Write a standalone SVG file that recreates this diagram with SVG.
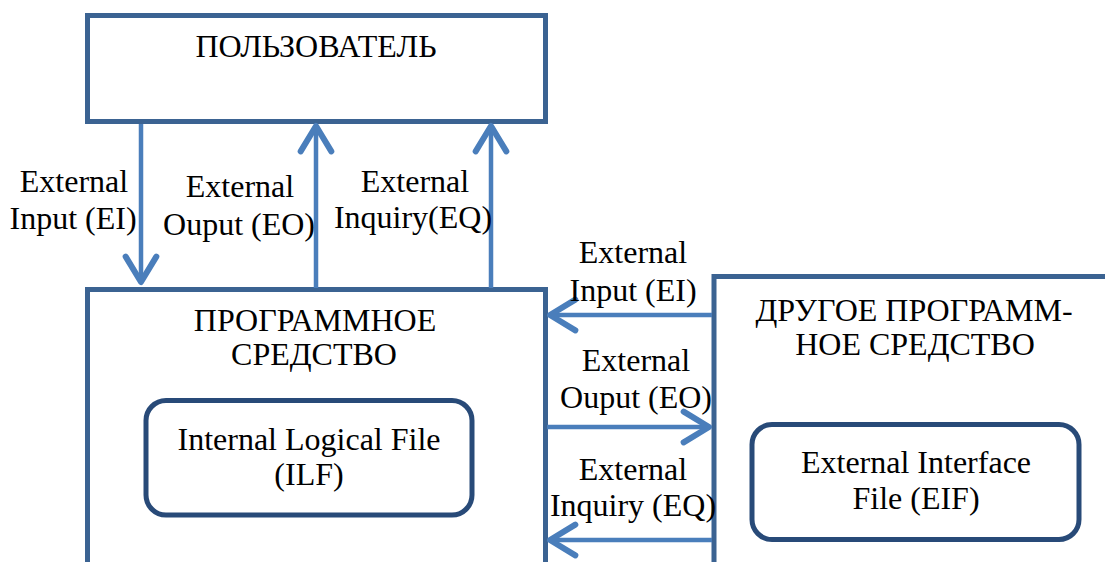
<svg xmlns="http://www.w3.org/2000/svg" width="1105" height="562" viewBox="0 0 1105 562">
  <style>
    .box { fill: #ffffff; stroke: #3b6392; stroke-width: 5; }
    .open { fill: none; stroke: #3b6392; stroke-width: 5; }
    .file { fill: #ffffff; stroke: #284a78; stroke-width: 5; }
    .flow { fill: none; stroke: #4a7ebb; stroke-width: 4.5; marker-end: url(#head); }
  </style>
  <defs>
    <marker id="head" markerUnits="userSpaceOnUse" markerWidth="40" markerHeight="40" viewBox="-25 -15 30 30" refX="0" refY="0" orient="auto" overflow="visible">
      <path d="M-19,-11.5 L0,0 L-19,11.5" fill="none" stroke="#4a7ebb" stroke-width="4.5" stroke-linecap="round" stroke-linejoin="round"/>
    </marker>
  </defs>
  <rect width="1105" height="562" fill="#ffffff"/>

  <g font-family="Times New Roman, Liberation Serif, DejaVu Serif, serif" font-size="32" text-anchor="middle" fill="#000000">
  <g id="user">
    <rect class="box" x="87.5" y="15.5" width="458" height="106"/>
    <text x="316" y="57">ПОЛЬЗОВАТЕЛЬ</text>
  </g>

  <g id="software">
    <path class="open" d="M87.5,570 V289.5 H545.5 V570"/>
    <text x="315" y="331">ПРОГРАММНОЕ</text>
    <text x="314" y="365">СРЕДСТВО</text>
  </g>

  <g id="ilf">
    <rect class="file" x="146" y="400.5" width="326" height="114.5" rx="20" ry="20"/>
    <text x="309" y="450">Internal Logical File</text>
    <text x="309" y="485">(ILF)</text>
  </g>

  <g id="other-software">
    <path class="open" d="M714,570 V276.5 H1110"/>
    <text x="914" y="321">ДРУГОЕ ПРОГРАММ-</text>
    <text x="915" y="355">НОЕ СРЕДСТВО</text>
  </g>

  <g id="eif">
    <rect class="file" x="752" y="424.5" width="327" height="115" rx="20" ry="20"/>
    <text x="916" y="473">External Interface</text>
    <text x="916" y="509">File (EIF)</text>
  </g>

  <g id="connectors">
    <line class="flow" x1="141" y1="124" x2="141" y2="282"/>
    <line class="flow" x1="316" y1="288" x2="316" y2="126"/>
    <line class="flow" x1="491" y1="288" x2="491" y2="126"/>
    <line class="flow" x1="712" y1="315" x2="550" y2="315"/>
    <line class="flow" x1="547" y1="427" x2="709" y2="427"/>
    <line class="flow" x1="712" y1="540" x2="550" y2="540"/>
  </g>

  <g id="labels">
    <text x="74" y="192">External</text>
    <text x="73" y="229">Input (EI)</text>
    <text x="240" y="197">External</text>
    <text x="239" y="235">Ouput (EO)</text>
    <text x="415" y="192">External</text>
    <text x="413" y="228">Inquiry(EQ)</text>
    <text x="633" y="263">External</text>
    <text x="633" y="301">Input (EI)</text>
    <text x="636" y="371">External</text>
    <text x="636" y="408">Ouput (EO)</text>
    <text x="633" y="480">External</text>
    <text x="633" y="516">Inquiry (EQ)</text>
  </g>
  </g>
</svg>
